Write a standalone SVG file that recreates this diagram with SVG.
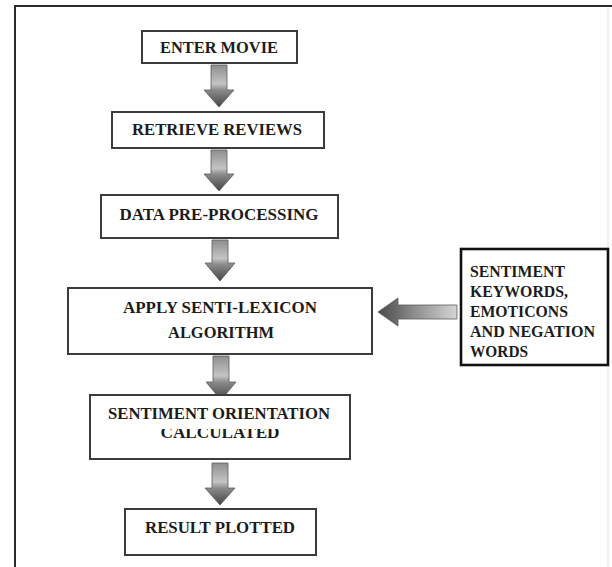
<svg xmlns="http://www.w3.org/2000/svg" width="612" height="567" viewBox="0 0 612 567">
  <style>
    .box { fill: #ffffff; stroke: #3c3c3c; stroke-width: 2; }
    .box-strong { fill: #ffffff; stroke: #111111; stroke-width: 2.6; }
    .lbl { font-family: "Liberation Serif", "Times New Roman", serif; font-weight: bold; font-size: 17px; fill: #1c1c1c; text-anchor: middle; }
    .lbl-left { font-family: "Liberation Serif", "Times New Roman", serif; font-weight: bold; font-size: 17px; fill: #1c1c1c; }
    .arrow-v { fill: url(#gradV); stroke: #5a5a5a; stroke-width: 0.8; }
    .arrow-h { fill: url(#gradH); stroke: #5a5a5a; stroke-width: 0.8; }
    .frame { stroke: #2a2a2a; stroke-width: 2; fill: none; }
  </style>
  <defs>
    <linearGradient id="gradV" x1="0" y1="0" x2="0" y2="1">
      <stop offset="0" stop-color="#8e8e8e"/>
      <stop offset="0.45" stop-color="#c4c4c4"/>
      <stop offset="0.6" stop-color="#8a8a8a"/>
      <stop offset="1" stop-color="#444444"/>
    </linearGradient>
    <linearGradient id="gradH" x1="1" y1="0" x2="0" y2="0">
      <stop offset="0" stop-color="#d6d6d6"/>
      <stop offset="0.55" stop-color="#8c8c8c"/>
      <stop offset="1" stop-color="#474747"/>
    </linearGradient>
    <clipPath id="lowerHalf">
      <rect x="90" y="429" width="260" height="30"/>
    </clipPath>
  </defs>

  <rect x="0" y="0" width="612" height="567" fill="#ffffff"/>

  <!-- page frame -->
  <g id="frame">
    <line class="frame" x1="14" y1="6" x2="612" y2="6"/>
    <line class="frame" x1="15" y1="6" x2="15" y2="567"/>
    <line x1="608" y1="8" x2="608" y2="567" stroke="#e2e2e2" stroke-width="1"/>
  </g>

  <!-- connectors -->
  <g id="connectors">
    <path class="arrow-v" d="M211,65 H227 V90 H234 L219,107 L204,90 H211 Z"/>
    <path class="arrow-v" d="M211,150 H227 V174 H234 L219,191 L204,174 H211 Z"/>
    <path class="arrow-v" d="M212,240 H228 V263 H235 L220,281 L205,263 H212 Z"/>
    <path class="arrow-v" d="M213,356 H229 V382 H236 L221,400 L206,382 H213 Z"/>
    <path class="arrow-v" d="M212,463 H228 V488 H235 L220,505 L205,488 H212 Z"/>
    <path class="arrow-h" d="M457,305 V319 H398 V326 L378,312 L398,298 V305 Z"/>
  </g>

  <g id="enter-movie">
    <rect class="box" x="142" y="31" width="155" height="32"/>
    <text class="lbl" x="219" y="53" textLength="118" lengthAdjust="spacingAndGlyphs">ENTER MOVIE</text>
  </g>

  <g id="retrieve-reviews">
    <rect class="box" x="112" y="112" width="212" height="36"/>
    <text class="lbl" x="217" y="135" textLength="170" lengthAdjust="spacingAndGlyphs">RETRIEVE REVIEWS</text>
  </g>

  <g id="data-preprocessing">
    <rect class="box" x="101" y="195" width="237" height="43"/>
    <text class="lbl" x="219" y="220" textLength="199" lengthAdjust="spacingAndGlyphs">DATA PRE-PROCESSING</text>
  </g>

  <g id="apply-senti-lexicon">
    <rect class="box" x="68" y="288" width="304" height="66"/>
    <text class="lbl" x="220" y="313" textLength="194" lengthAdjust="spacingAndGlyphs">APPLY SENTI-LEXICON</text>
    <text class="lbl" x="221" y="338" textLength="106" lengthAdjust="spacingAndGlyphs">ALGORITHM</text>
  </g>

  <g id="sentiment-resources">
    <rect class="box-strong" x="461" y="249" width="147" height="116"/>
    <text class="lbl-left" x="470" y="277" textLength="95" lengthAdjust="spacingAndGlyphs">SENTIMENT</text>
    <text class="lbl-left" x="470" y="297" textLength="98" lengthAdjust="spacingAndGlyphs">KEYWORDS,</text>
    <text class="lbl-left" x="470" y="317" textLength="98" lengthAdjust="spacingAndGlyphs">EMOTICONS</text>
    <text class="lbl-left" x="470" y="337" textLength="125" lengthAdjust="spacingAndGlyphs">AND NEGATION</text>
    <text class="lbl-left" x="470" y="357" textLength="58" lengthAdjust="spacingAndGlyphs">WORDS</text>
  </g>

  <g id="sentiment-orientation">
    <rect class="box" x="90" y="395" width="260" height="64"/>
    <text class="lbl" x="219" y="419" textLength="222" lengthAdjust="spacingAndGlyphs">SENTIMENT ORIENTATION</text>
    <text class="lbl" x="220" y="438" textLength="119" lengthAdjust="spacingAndGlyphs" clip-path="url(#lowerHalf)">CALCULATED</text>
  </g>

  <g id="result-plotted">
    <rect class="box" x="125" y="509" width="191" height="46"/>
    <text class="lbl" x="220" y="533" textLength="150" lengthAdjust="spacingAndGlyphs">RESULT PLOTTED</text>
  </g>
</svg>
